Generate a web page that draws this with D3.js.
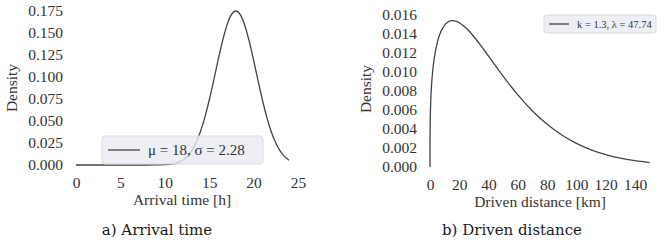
<!DOCTYPE html>
<html>
<head>
<meta charset="utf-8">
<script src="https://cdn.jsdelivr.net/npm/d3@7"></script>
<style>
  body { margin: 0; background: #fff; }
  svg { display: block; }
  .tick text { font-family: "Liberation Serif", serif; font-size: 15.5px; fill: #333; }
  .axis-title { font-family: "Liberation Serif", serif; font-size: 15.5px; fill: #333; }
  .caption { font-family: "DejaVu Serif", serif; font-size: 15px; fill: #1a1a1a; }
</style>
</head>
<body>
<svg id="chart" width="664" height="243"></svg>
<script>
// a) arrival time, normal density
const arrivalX = [0, 2, 4, 6, 8, 9, 10, 11, 11.5, 12, 12.5, 13, 13.5, 14, 14.5, 15, 15.5, 16, 16.5, 17, 17.5, 18,
                  18.5, 19, 19.5, 20, 20.5, 21, 21.5, 22, 22.5, 23, 23.5, 24];
const arrivalY = [0, 0, 0, 0, 0.00001, 0.00007, 0.00037, 0.00157, 0.00301, 0.00548, 0.00954, 0.0158, 0.0250, 0.0376,
                  0.0539, 0.0736, 0.0959, 0.1191, 0.1409, 0.1589, 0.1708, 0.1750, 0.1708, 0.1589, 0.1409, 0.1191,
                  0.0959, 0.0736, 0.0539, 0.0376, 0.0250, 0.0158, 0.00954, 0.00548];
const arrivalTicksX = [0, 5, 10, 15, 20, 25];
const arrivalTicksY = [0, 0.025, 0.05, 0.075, 0.1, 0.125, 0.15, 0.175];
const arrivalLegend = 'μ = 18, σ = 2.28';

// b) driven distance, weibull density
const distX = [0, 0.02, 0.1, 0.5, 1, 2, 3, 5, 7.5, 10, 12.5, 15, 17.5, 20, 25, 30, 35, 40, 50, 60, 70, 80, 90,
               100, 110, 120, 130, 140, 150];
const distY = [0, 0.00264, 0.00428, 0.00692, 0.00848, 0.01034, 0.01155, 0.01312, 0.01428, 0.01494, 0.01529,
               0.01541, 0.01536, 0.01519, 0.01457, 0.01371, 0.01272, 0.01167, 0.00955, 0.00759, 0.00590, 0.00449,
               0.00337, 0.00249, 0.00181, 0.00131, 0.00093, 0.00066, 0.00046];
const distTicksX = [0, 20, 40, 60, 80, 100, 120, 140];
const distTicksY = [0, 0.002, 0.004, 0.006, 0.008, 0.01, 0.012, 0.014, 0.016];
const distLegend = 'k = 1.3, λ = 47.74';

const svg = d3.select('#chart');
const lineColor = '#444';

function panel(cfg) {
    const x = d3.scaleLinear().domain(cfg.xDomain).range(cfg.xRange);
    const y = d3.scaleLinear().domain(cfg.yDomain).range(cfg.yRange);
    const g = svg.append('g');

    // axes without lines (seaborn white style)
    g.append('g')
        .attr('transform', `translate(0,${cfg.yRange[0] + 6})`)
        .call(d3.axisBottom(x).tickValues(cfg.ticksX).tickSize(0).tickPadding(6).tickFormat(d3.format('d')))
        .call(a => a.select('.domain').remove());
    g.append('g')
        .attr('transform', `translate(${cfg.xRange[0] - 8},0)`)
        .call(d3.axisLeft(y).tickValues(cfg.ticksY).tickSize(0).tickPadding(5).tickFormat(d3.format('.3f')))
        .call(a => a.select('.domain').remove());

    const pts = cfg.xs.map((d, i) => [d, cfg.ys[i]]);
    const line = d3.line().x(d => x(d[0])).y(d => y(d[1])).curve(d3.curveMonotoneX);
    g.append('path')
        .datum(pts)
        .attr('d', line)
        .attr('fill', 'none')
        .attr('stroke', lineColor)
        .attr('stroke-width', 1.3);

    // legend
    const L = cfg.legend;
    const lg = g.append('g').attr('transform', `translate(${L.x},${L.y})`);
    lg.append('rect')
        .attr('width', L.w).attr('height', L.h)
        .attr('rx', 3)
        .attr('fill', '#eaeaf2').attr('fill-opacity', 0.8)
        .attr('stroke', '#dcdce4').attr('stroke-width', 1);
    lg.append('line')
        .attr('x1', L.lx0).attr('x2', L.lx1)
        .attr('y1', L.h / 2).attr('y2', L.h / 2)
        .attr('stroke', lineColor).attr('stroke-width', 1.3);
    lg.append('text')
        .attr('x', L.tx).attr('y', L.h / 2)
        .attr('dy', '0.35em')
        .style('font-family', '"Liberation Serif", serif')
        .style('font-size', L.fs + 'px')
        .style('fill', '#333')
        .text(L.text);

    // titles
    g.append('text')
        .attr('class', 'axis-title')
        .attr('text-anchor', 'middle')
        .attr('x', cfg.xTitlePos[0]).attr('y', cfg.xTitlePos[1])
        .text(cfg.xTitle);
    g.append('text')
        .attr('class', 'axis-title')
        .attr('text-anchor', 'middle')
        .attr('transform', `translate(${cfg.yTitlePos[0]},${cfg.yTitlePos[1]}) rotate(-90)`)
        .text('Density');
    g.append('text')
        .attr('class', 'caption')
        .attr('text-anchor', 'middle')
        .attr('x', cfg.captionPos[0]).attr('y', cfg.captionPos[1])
        .text(cfg.caption);
}

panel({
    xs: arrivalX, ys: arrivalY,
    xDomain: [0, 25], xRange: [76, 298],
    yDomain: [0, 0.175], yRange: [165, 11],
    ticksX: arrivalTicksX, ticksY: arrivalTicksY,
    legend: { x: 102, y: 136, w: 161, h: 28, lx0: 6, lx1: 38, tx: 46, fs: 15, text: arrivalLegend },
    xTitle: 'Arrival time [h]', xTitlePos: [182, 205],
    yTitlePos: [17, 88],
    caption: 'a) Arrival time', captionPos: [157, 235]
});

panel({
    xs: distX, ys: distY,
    xDomain: [0, 140], xRange: [430, 635],
    yDomain: [0, 0.016], yRange: [167, 15],
    ticksX: distTicksX, ticksY: distTicksY,
    legend: { x: 544, y: 15, w: 112, h: 18, lx0: 5, lx1: 25, tx: 33, fs: 10.5, text: distLegend },
    xTitle: 'Driven distance [km]', xTitlePos: [540, 207],
    yTitlePos: [371, 89],
    caption: 'b) Driven distance', captionPos: [512, 235]
});
</script>
</body>
</html>
